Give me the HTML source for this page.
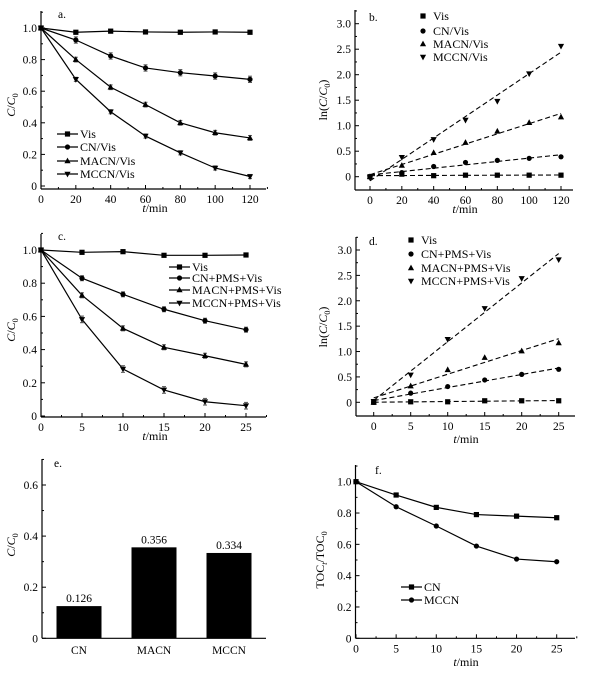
<!DOCTYPE html>
<html><head><meta charset="utf-8"><style>
body{margin:0;background:#fff;}
svg{display:block;font-family:"Liberation Serif",serif;}
</style></head><body>
<svg id="fig" width="612" height="673" viewBox="0 0 612 673" xmlns="http://www.w3.org/2000/svg"></svg>
<script>
// Panel a data
const aT=[0,20,40,60,80,100,120];
const aVis=[1.0,0.973,0.98,0.975,0.973,0.975,0.973];
const aCN=[1.0,0.924,0.823,0.747,0.717,0.696,0.675];
const aMACN=[1.0,0.80,0.625,0.515,0.40,0.337,0.304];
const aMCCN=[1.0,0.675,0.47,0.316,0.21,0.114,0.06];
// Panel b data
const bVis=[0,0.05,0.02,0.03,0.03,0.03,0.03];
const bCN=[0,0.08,0.2,0.28,0.32,0.36,0.39];
const bMACN=[0,0.22,0.47,0.67,0.89,1.06,1.17];
const bMCCN=[-0.02,0.38,0.73,1.11,1.48,2.02,2.56];
// Panel c data
const cT=[0,5,10,15,20,25];
const cVis=[1.0,0.986,0.99,0.968,0.968,0.97];
const cCN=[1.0,0.83,0.733,0.643,0.574,0.52];
const cMACN=[1.0,0.727,0.528,0.414,0.363,0.311];
const cMCCN=[1.0,0.582,0.283,0.157,0.086,0.062];
// Panel d data
const dVis=[0,0.01,0.01,0.03,0.03,0.03];
const dCN=[0,0.18,0.31,0.44,0.55,0.65];
const dMACN=[0,0.32,0.64,0.88,1.01,1.17];
const dMCCN=[0.02,0.54,1.24,1.85,2.44,2.81];
// Panel e data
const eCats=["CN","MACN","MCCN"];
const eVals=[0.126,0.356,0.334];
const eLabels=["0.126","0.356","0.334"];
// Panel f data
const fCN=[1.0,0.915,0.836,0.79,0.78,0.77];
const fMCCN=[1.0,0.84,0.717,0.589,0.506,0.489];

const NS="http://www.w3.org/2000/svg";
const svg=document.getElementById('fig');
function el(tag,attrs,parent,txt){const e=document.createElementNS(NS,tag);for(const k in attrs)e.setAttribute(k,attrs[k]);if(txt!==undefined)e.textContent=txt;(parent||svg).appendChild(e);return e;}
function lin(d0,d1,r0,r1){return v=>r0+(v-d0)/(d1-d0)*(r1-r0);}

function marker(g,type,x,y,s){
  s=s||3;
  if(type==='sq')return el('rect',{x:x-s,y:y-s,width:2*s,height:2*s,fill:'#000'},g);
  if(type==='ci')return el('circle',{cx:x,cy:y,r:s,fill:'#000'},g);
  if(type==='up')return el('polygon',{points:`${x},${y-s-0.8} ${x-s-0.5},${y+s-0.3} ${x+s+0.5},${y+s-0.3}`,fill:'#000'},g);
  if(type==='dn')return el('polygon',{points:`${x},${y+s+0.8} ${x-s-0.5},${y-s+0.3} ${x+s+0.5},${y-s+0.3}`,fill:'#000'},g);
}

function axes(g,o){
  // o: left,top,bottom,right,X,Y,xt,xminor,yt,yminor,ytl
  el('line',{x1:o.left,y1:o.top,x2:o.left,y2:o.bottom,stroke:'#000','stroke-width':1.2},g);
  el('line',{x1:o.left,y1:o.bottom,x2:o.right,y2:o.bottom,stroke:'#000','stroke-width':1.2},g);
  if(o.xt){
    o.xminor.forEach(v=>el('line',{x1:o.X(v),y1:o.bottom,x2:o.X(v),y2:o.bottom-2,stroke:'#000'},g));
    o.xt.forEach(v=>{el('line',{x1:o.X(v),y1:o.bottom,x2:o.X(v),y2:o.bottom-4,stroke:'#000'},g);
      const t=el('text',{x:o.X(v),y:o.bottom+14,'font-size':11.5,'text-anchor':'middle'},g,String(v));
      });
  }
  o.yminor.forEach(v=>el('line',{x1:o.left,y1:o.Y(v),x2:o.left+2,y2:o.Y(v),stroke:'#000'},g));
  o.yt.forEach((v,i)=>{el('line',{x1:o.left,y1:o.Y(v),x2:o.left+4,y2:o.Y(v),stroke:'#000'},g);
    const t=el('text',{x:o.left-4,y:o.Y(v)+4,'font-size':11.5,'text-anchor':'end'},g,o.ytl[i]);
    });
}
function xlabel(g,x,y){const t=el('text',{x:x,y:y,'font-size':12,'text-anchor':'middle'},g);
  
  el('tspan',{'font-style':'italic'},t,'t');el('tspan',{},t,'/min');}
function ylabelC(g,x,y){const t=el('text',{x:0,y:0,'font-size':12,'text-anchor':'middle',transform:`translate(${x},${y}) rotate(-90)`},g);
  
  el('tspan',{'font-style':'italic'},t,'C');el('tspan',{},t,'/');el('tspan',{'font-style':'italic'},t,'C');el('tspan',{'font-size':8,dy:3},t,'0');}
function ylabelLn(g,x,y){const t=el('text',{x:0,y:0,'font-size':12,'text-anchor':'middle',transform:`translate(${x},${y}) rotate(-90)`},g);
  
  el('tspan',{},t,'ln(');el('tspan',{'font-style':'italic'},t,'C');el('tspan',{},t,'/');el('tspan',{'font-style':'italic'},t,'C');el('tspan',{'font-size':8,dy:3},t,'0');el('tspan',{dy:-3},t,')');}
function plabel(g,x,y,s){const t=el('text',{x:x,y:y,'font-size':11.5},g,s);}
function seriesLine(g,T,V,X,Y,m,err,name){
  const s=el('g',{},g);
  el('polyline',{points:T.map((t,i)=>X(t)+','+Y(V[i])).join(' '),fill:'none',stroke:'#000','stroke-width':1.2},s);
  T.forEach((t,i)=>{if(err&&i>0){const x=X(t),y1=Y(V[i]+err),y2=Y(V[i]-err);
    el('line',{x1:x,y1:y1,x2:x,y2:y2,stroke:'#555'},s);el('line',{x1:x-2,y1:y1,x2:x+2,y2:y1,stroke:'#555'},s);el('line',{x1:x-2,y1:y2,x2:x+2,y2:y2,stroke:'#555'},s);}
    marker(s,m,X(t),Y(V[i]),2.6);});
}
function fitSeries(g,T,V,X,Y,m,name){
  const s=el('g',{},g);
  const n=T.length,mx=T.reduce((a,b)=>a+b)/n,my=V.reduce((a,b)=>a+b)/n;
  let sxy=0,sxx=0;T.forEach((t,i)=>{sxy+=(t-mx)*(V[i]-my);sxx+=(t-mx)*(t-mx);});
  const k=sxy/sxx,b=my-k*mx,t0=T[0],t1=T[n-1];
  el('line',{x1:X(t0),y1:Y(b+k*t0),x2:X(t1),y2:Y(b+k*t1),stroke:'#000','stroke-width':1.1,'stroke-dasharray':'5,3'},s);
  T.forEach((t,i)=>marker(s,m,X(t),Y(V[i]),2.6));
}
function legend(g,x,ys,items,withLine){
  items.forEach((it,i)=>{const lg=el('g',{},g);
    if(withLine){el('line',{x1:x,y1:ys[i],x2:x+21,y2:ys[i],stroke:'#000','stroke-width':1.2},lg);marker(lg,it[0],x+10.5,ys[i],2.6);
      el('text',{x:x+23,y:ys[i]+4,'font-size':12},lg,it[1]);}
    else{marker(lg,it[0],x,ys[i],2.6);el('text',{x:x+10,y:ys[i]+4,'font-size':12},lg,it[1]);}
  });
}
const range=(a,b,s)=>{const r=[];for(let v=a;v<=b+1e-9;v+=s)r.push(Math.round(v*1000)/1000);return r;};

// Panel a
{const g=el('g',{});
 const X=lin(0,120,41,250),Y=lin(0,1,186,28);
 axes(g,{left:41,top:11,bottom:189,right:266,X,Y,xt:range(0,120,20),xminor:range(10,130,20),yt:range(0,1,0.2),yminor:range(0.1,1.1,0.2),ytl:["0","0.2","0.4","0.6","0.8","1.0"]});
 plabel(g,58,18,'a.');xlabel(g,155,212);ylabelC(g,15,105);
 seriesLine(g,aT,aVis,X,Y,'sq',0.006,'series-vis');seriesLine(g,aT,aCN,X,Y,'ci',0.02,'series-cn');
 seriesLine(g,aT,aMACN,X,Y,'up',0.015,'series-macn');seriesLine(g,aT,aMCCN,X,Y,'dn',0.013,'series-mccn');
 legend(g,57,[134,147,161,174],[['sq','Vis'],['ci','CN/Vis'],['up','MACN/Vis'],['dn','MCCN/Vis']],true);}
// Panel b
{const g=el('g',{});
 const X=lin(0,120,370,561),Y=lin(0,3,176.7,23.7);
 axes(g,{left:355,top:10,bottom:190,right:573,X,Y,xt:range(0,120,20),xminor:range(10,110,20),yt:range(0,3,0.5),yminor:range(0.25,3.25,0.5),ytl:["0","0.5","1.0","1.5","2.0","2.5","3.0"]});
 plabel(g,369,21,'b.');xlabel(g,465,213);ylabelLn(g,327,100);
 fitSeries(g,aT,bVis,X,Y,'sq','fit-vis');fitSeries(g,aT,bCN,X,Y,'ci','fit-cn');fitSeries(g,aT,bMACN,X,Y,'up','fit-macn');fitSeries(g,aT,bMCCN,X,Y,'dn','fit-mccn');
 legend(g,423,[16,31,44,57],[['sq','Vis'],['ci','CN/Vis'],['up','MACN/Vis'],['dn','MCCN/Vis']],false);}
// Panel c
{const g=el('g',{});
 const X=lin(0,25,41,246),Y=lin(0,1,416,250);
 axes(g,{left:41,top:234,bottom:417,right:266,X,Y,xt:range(0,25,5),xminor:range(2.5,27.5,5),yt:range(0,1,0.2),yminor:range(0.1,1.1,0.2),ytl:["0","0.2","0.4","0.6","0.8","1.0"]});
 plabel(g,58,240,'c.');xlabel(g,155,440);ylabelC(g,15,330);
 seriesLine(g,cT,cVis,X,Y,'sq',0.004,'series-vis');seriesLine(g,cT,cCN,X,Y,'ci',0.015,'series-cn');
 seriesLine(g,cT,cMACN,X,Y,'up',0.015,'series-macn');seriesLine(g,cT,cMCCN,X,Y,'dn',0.02,'series-mccn');
 legend(g,169,[267,278,290,303],[['sq','Vis'],['ci','CN+PMS+Vis'],['up','MACN+PMS+Vis'],['dn','MCCN+PMS+Vis']],true);}
// Panel d
{const g=el('g',{});
 const X=lin(0,25,373.7,558.7),Y=lin(0,3,402.3,250);
 axes(g,{left:356,top:237,bottom:416,right:575,X,Y,xt:range(0,25,5),xminor:range(2.5,22.5,5),yt:range(0,3,0.5),yminor:range(0.25,3.25,0.5),ytl:["0","0.5","1.0","1.5","2.0","2.5","3.0"]});
 plabel(g,369,245,'d.');xlabel(g,466,443);ylabelLn(g,327,327);
 fitSeries(g,cT,dVis,X,Y,'sq','fit-vis');fitSeries(g,cT,dCN,X,Y,'ci','fit-cn');fitSeries(g,cT,dMACN,X,Y,'up','fit-macn');fitSeries(g,cT,dMCCN,X,Y,'dn','fit-mccn');
 legend(g,411,[240,254,268,281],[['sq','Vis'],['ci','CN+PMS+Vis'],['up','MACN+PMS+Vis'],['dn','MCCN+PMS+Vis']],false);}
// Panel e
{const g=el('g',{});
 const Y=lin(0,0.6,638.3,485);
 axes(g,{left:42,top:459,bottom:638.3,right:266,X:null,Y,xt:null,yt:range(0,0.6,0.2),yminor:range(0.1,0.7,0.2),ytl:["0","0.2","0.4","0.6"]});
 plabel(g,54,467,'e.');ylabelC(g,15,545);
 const bw=75,x0=41.5;
 eCats.forEach((c,i)=>{const cx=x0+bw*(i+0.5);
   const r=el('rect',{x:cx-22.5,y:Y(eVals[i]),width:45,height:638.3-Y(eVals[i]),fill:'#000'},g);
   
   const v=el('text',{x:cx,y:Y(eVals[i])-4,'font-size':11.5,'text-anchor':'middle'},g,eLabels[i]);
   
   const t=el('text',{x:cx,y:654,'font-size':11.5,'text-anchor':'middle'},g,c);
   });}
// Panel f
{const g=el('g',{});
 const X=lin(0,25,356,556.7),Y=lin(0,1,638.3,481.7);
 axes(g,{left:355.5,top:465,bottom:638.3,right:575,X,Y,xt:range(0,25,5),xminor:range(2.5,27.5,5),yt:range(0,1,0.2),yminor:range(0.1,1.1,0.2),ytl:["0","0.2","0.4","0.6","0.8","1.0"]});
 plabel(g,375,474,'f.');xlabel(g,466,666);
 const yt=el('text',{x:0,y:0,'font-size':12,'text-anchor':'middle',transform:'translate(324,560) rotate(-90)'},g);
 
 el('tspan',{},yt,'TOC');el('tspan',{'font-size':8,dy:3,'font-style':'italic'},yt,'t');el('tspan',{dy:-3},yt,'/TOC');el('tspan',{'font-size':8,dy:3},yt,'0');
 seriesLine(g,cT,fCN,X,Y,'sq',0,'series-cn');seriesLine(g,cT,fMCCN,X,Y,'ci',0,'series-mccn');
 legend(g,401,[587,600],[['sq','CN'],['ci','MCCN']],true);}
</script>
</body></html>
